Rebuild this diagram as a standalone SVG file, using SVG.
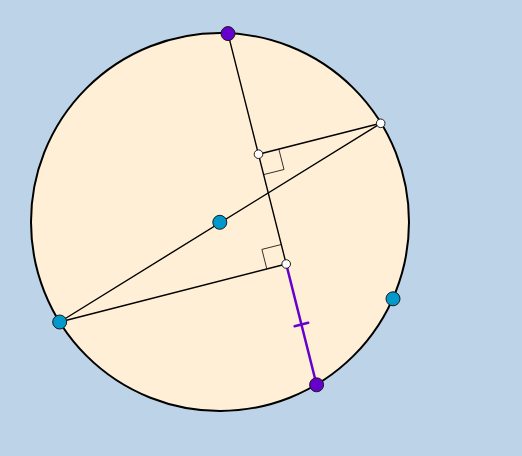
<svg xmlns="http://www.w3.org/2000/svg" width="522" height="456" viewBox="0 0 522 456">
<style>
.ln{stroke:#000;stroke-width:1.4;fill:none;stroke-linecap:round}
.ra{stroke:#000;stroke-width:0.8;fill:none}
.pu{stroke:#6600CC;stroke-width:2.5;fill:none;stroke-linecap:round}
.ptB{fill:#0099CC;stroke:#1a1a1a;stroke-width:1}
.ptP{fill:#6600CC;stroke:#1a1a1a;stroke-width:1}
.ptW{fill:#fff;stroke:#1a1a1a;stroke-width:1}
</style>
<rect x="0" y="0" width="522" height="456" fill="#BDD3E7"/>
<g id="circle">
<circle cx="220" cy="222" r="189" fill="#FFEFD6" stroke="#000" stroke-width="2"/>
</g>
<g id="connectors">
<line class="ln" x1="59.7" y1="322" x2="380.7" y2="123.3"/>
<line class="ln" x1="228" y1="33.6" x2="286.2" y2="264"/>
<line class="ln" x1="258.5" y1="154.2" x2="380.7" y2="123.3"/>
<line class="ln" x1="59.7" y1="322" x2="286.2" y2="264"/>
<polyline class="ra" points="278.8,149.1 284,169.5 263.6,174.6"/>
<polyline class="ra" points="266.8,268.8 261.9,249.4 281.3,244.5"/>
<line class="pu" x1="286.2" y1="264" x2="316.6" y2="384.8"/>
<line class="pu" x1="294.6" y1="326.2" x2="308.2" y2="322.8"/>
</g>
<g id="P_top"><circle class="ptP" cx="228" cy="33.6" r="7"/></g>
<g id="P_bottom"><circle class="ptP" cx="316.6" cy="384.8" r="7"/></g>
<g id="B_left"><circle class="ptB" cx="59.7" cy="322" r="7"/></g>
<g id="B_center"><circle class="ptB" cx="219.8" cy="222.3" r="7"/></g>
<g id="B_right"><circle class="ptB" cx="393" cy="298.8" r="7"/></g>
<g id="W_chord_end"><circle class="ptW" cx="380.7" cy="123.3" r="4.3"/></g>
<g id="W_foot1"><circle class="ptW" cx="258.5" cy="154.2" r="4.3"/></g>
<g id="W_foot2"><circle class="ptW" cx="286.2" cy="264" r="4.3"/></g>
</svg>
